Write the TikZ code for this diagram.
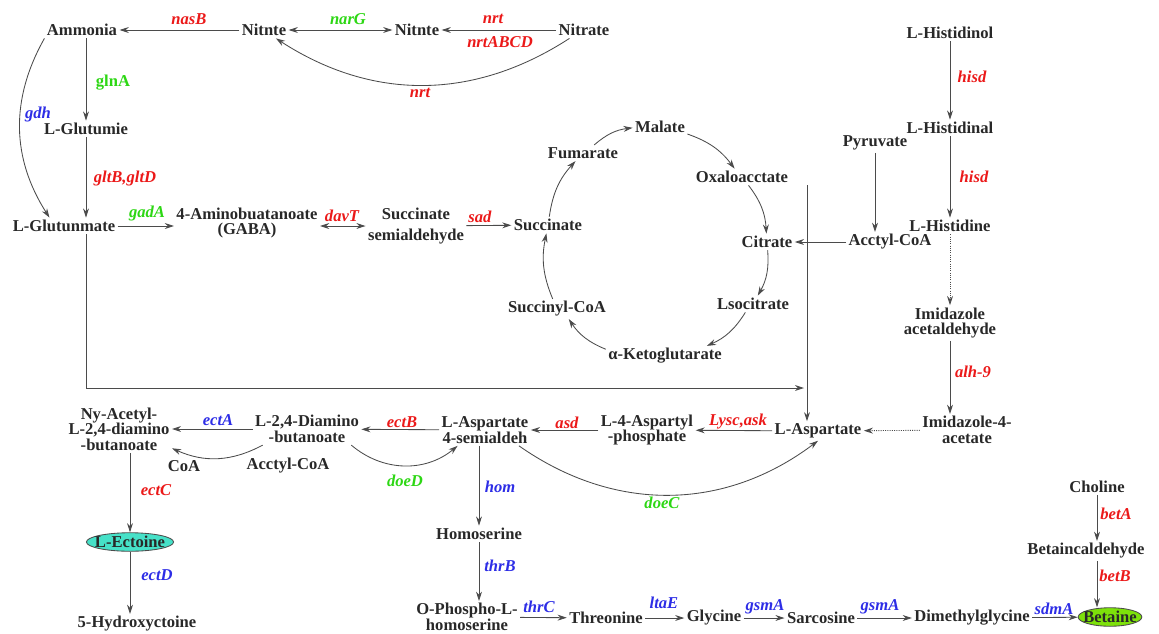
\documentclass[tikz,border=0pt]{standalone}
\usepackage{fontspec}
\setmainfont{Liberation Serif}
\usepackage{tikz}
\usetikzlibrary{arrows.meta, shapes.geometric, positioning, calc}

\definecolor{metgray}{RGB}{40,40,40}
\definecolor{linegray}{RGB}{75,75,75}
\definecolor{genered}{RGB}{235,25,25}
\definecolor{genegreen}{RGB}{45,215,20}
\definecolor{geneblue}{RGB}{45,45,230}
\definecolor{ectoinefill}{RGB}{70,225,200}
\definecolor{betainefill}{RGB}{125,225,10}

\begin{document}
\begin{tikzpicture}[
            x=0.025cm, y=-0.025cm,
            color=linegray, line width=0.6pt,
            >={Stealth[length=6.5pt,width=4.2pt]},
            met/.style={inner sep=1.5pt, align=center, text=metgray, font=\fontsize{11.8}{11}\selectfont\bfseries},
            gene/.style={inner sep=1pt, font=\fontsize{11.8}{11}\selectfont\bfseries\itshape},
            redgene/.style={gene, text=genered},
            greengene/.style={gene, text=genegreen},
            bluegene/.style={gene, text=geneblue},
            endprod/.style={met, ellipse, draw=linegray, inner xsep=-3pt, inner ysep=0.5pt}
        ]
\useasboundingbox (0,0) rectangle (1159,633);

% Nitrogen
            \node[met] (amm) at (82,30) {Ammonia};
            \node[met] (nit1) at (264,30) {Nitnte};
            \node[met] (nit2) at (417,30) {Nitnte};
            \node[met] (nitr) at (584,30) {Nitrate};
            \node[met] (glm) at (86,129) {L-Glutumie};
            \node[met] (glu) at (64,226) {L-Glutunmate};
            \node[met] (gaba) at (247,223) {4-Aminobuatanoate\\(GABA)};
            \node[met] (ssa) at (416,226) {Succinate\\[4.5pt]semialdehyde};

% TCA cycle
            \node[met] (succ) at (548,225) {Succinate};
            \node[met] (fum) at (583,153) {Fumarate};
            \node[met] (mal) at (660,127) {Malate};
            \node[met] (oxa) at (742,177) {Oxaloacctate};
            \node[met] (cit) at (767,242) {Citrate};
            \node[met] (iso) at (753,304) {Lsocitrate};
            \node[met] (akg) at (665,356) {α-Ketoglutarate};
            \node[met] (scoa) at (557,309) {Succinyl-CoA};
            \node[met] (acoa) at (890,242) {Acctyl-CoA};
            \node[met] (pyr) at (875,143) {Pyruvate};

% Histidine
            \node[met] (hol) at (950,33) {L-Histidinol};
            \node[met] (hal) at (950,128) {L-Histidinal};
            \node[met] (hid) at (950,226) {L-Histidine};
            \node[met] (iac) at (950,323) {Imidazole\\acetaldehyde};
            \node[met] (iaa) at (967,430) {Imidazole-4-\\acetate};

% Aspartate branch
            \node[met] (asp) at (818,431) {L-Aspartate};
            \node[met] (aph) at (647,430) {L-4-Aspartyl\\-phosphate};
            \node[met] (apa) at (485,430) {L-Aspartate\\4-semialdeh};
            \node[met] (dab) at (307,429) {L-2,4-Diamino\\-butanoate};
            \node[met] (nad) at (119,429) {Ny-Acetyl-\\L-2,4-diamino\\-butanoate};
            \node[met] (coa) at (184,466) {CoA};
            \node[met] (acoa2) at (288,466) {Acctyl-CoA};
            \node[endprod, fill=ectoinefill] (ect) at (130,542) {L-Ectoine};
            \node[met] (hyd) at (137,624) {5-Hydroxyctoine};
            \node[met] (hse) at (479,534) {Homoserine};
            \node[met] (phs) at (467,617) {O-Phospho-L-\\homoserine};
            \node[met] (thr) at (606,618) {Threonine};
            \node[met] (gly) at (714,618) {Glycine};
            \node[met] (sar) at (821,618) {Sarcosine};
            \node[met] (dmg) at (972,618) {Dimethylglycine};
            \node[endprod, fill=betainefill] (bet) at (1110,617) {Betaine};
            \node[met] (cho) at (1097,487) {Choline};
            \node[met] (bal) at (1086,551) {Betaincaldehyde};

% Genes
            \node[redgene] (g-nasB) at (189,19) {nasB};
            \node[greengene] (g-narG) at (348,19) {narG};
            \node[redgene] (g-nrt1) at (493,19) {nrt};
            \node[redgene] (g-nrtABCD) at (500,42) {nrtABCD};
            \node[redgene] (g-nrt2) at (420,93) {nrt};
            \node[greengene] (g-glnA) at (113,83) {\upshape glnA};
            \node[bluegene] (g-gdh) at (38,115) {gdh};
            \node[redgene] (g-gltB) at (125,179) {gltB,gltD};
            \node[greengene] (g-gadA) at (147,214) {gadA};
            \node[redgene] (g-davT) at (342,216) {davT};
            \node[redgene] (g-sad) at (480,217) {sad};
            \node[redgene] (g-hisd1) at (972,77) {hisd};
            \node[redgene] (g-hisd2) at (974,177) {hisd};
            \node[redgene] (g-alh) at (973,372) {alh-9};
            \node[bluegene] (g-ectA) at (218,420) {ectA};
            \node[redgene] (g-ectB) at (402,422) {ectB};
            \node[redgene] (g-asd) at (567,423) {asd};
            \node[redgene] (g-lysc) at (738,422) {Lysc,ask};
            \node[greengene] (g-doeD) at (405,481) {doeD};
            \node[greengene] (g-doeC) at (662,503) {doeC};
            \node[bluegene] (g-hom) at (500,487) {hom};
            \node[bluegene] (g-thrB) at (500,566) {thrB};
            \node[bluegene] (g-thrC) at (539,607) {thrC};
            \node[bluegene] (g-ltaE) at (664,603) {ltaE};
            \node[bluegene] (g-gsmA1) at (765,607) {gsmA};
            \node[bluegene] (g-gsmA2) at (880,607) {gsmA};
            \node[bluegene] (g-sdmA) at (1054,609) {sdmA};
            \node[redgene] (g-ectC) at (156,490) {ectC};
            \node[bluegene] (g-ectD) at (157,575) {ectD};
            \node[redgene] (g-betA) at (1116,514) {betA};
            \node[redgene] (g-betB) at (1115,576) {betB};

% Arrows
            \draw[->] (nit1) -- (amm);
            \draw[<->] (nit1) -- (nit2);
            \draw[->] (nitr) -- (nit2);
            \draw[->] (nitr.210) to[bend left=33] (nit1.-35);
            \draw[->] (glm |- amm.south) -- (glm.north);
            \draw[->] (amm.south west) to[bend right=31] (glu.150);
            \draw[->] (glm.south) -- (glm |- glu.north);
            \draw[->] (glu) -- (glu -| gaba.west);
            \draw[<->] (gaba.east |- ssa) -- (ssa.west);
            \draw[->] (ssa) -- (succ);

            \draw[->] (succ) to[bend left=17] (fum);
            \draw[->] (fum) to[bend left=17] (mal);
            \draw[->] (mal) to[bend left=17] (oxa);
            \draw[->] (oxa) to[bend left=17] (cit);
            \draw[->] (cit) to[bend left=17] (iso);
            \draw[->] (iso) to[bend left=17] (akg);
            \draw[->] (akg) to[bend left=17] (scoa);
            \draw[->] (scoa) to[bend left=17] (succ);
            \draw[->] (acoa) -- (cit);
            \draw[->] (pyr) -- (pyr |- acoa.north);

            \coordinate (tcaout) at (807,185);
            \coordinate (glujoin) at (804,388);
            \draw[->] (tcaout) -- (tcaout |- asp.north);
            \draw[->] (glm |- glu.south) |- (glujoin);

            \draw[->] (hol) -- (hal);
            \draw[->] (hal) -- (hid);
            \draw[->, densely dotted] (hid) -- (iac);
            \draw[->] (iac) -- (iac |- iaa.north);
            \draw[->, densely dotted] (iaa) -- (asp);

            \draw[->] (asp) -- (aph);
            \draw[->] (aph) -- (apa);
            \draw[->] (apa) -- (dab);
            \draw[->] (dab) -- (nad);
            \draw[->] (dab.200) to[bend left=26] (nad.-20);
            \draw[->] (dab.-20) to[bend right=40] (apa.210);
            \draw[->] (apa.-25) to[bend right=36] (asp.south);
            \draw[->] (hse |- apa.south) -- (hse);
            \draw[->] (hse) -- (hse |- phs.north);
            \draw[->] (phs) -- (thr);
            \draw[->] (thr) -- (gly);
            \draw[->] (gly) -- (sar);
            \draw[->] (sar) -- (dmg);
            \draw[->] (dmg) -- (bet);
            \draw[->] (cho) -- (cho |- bal.north);
            \draw[->] (cho |- bal.south) -- (cho |- bet.north);

            \draw[->] (ect |- nad.south) -- (ect);
            \draw[->] (ect) -- (ect |- hyd.north);

        \end{tikzpicture}
\end{document}
